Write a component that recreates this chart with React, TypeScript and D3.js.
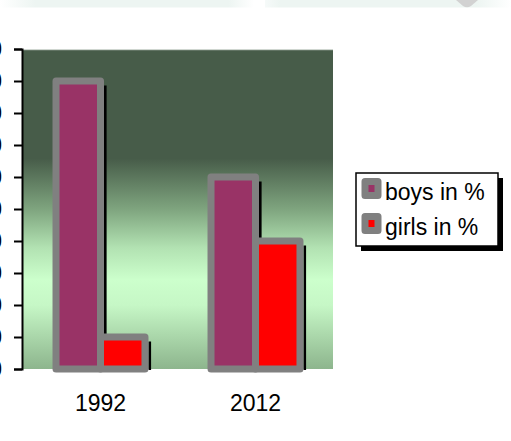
import React, { useEffect, useRef } from 'react';
import * as d3 from 'd3';

// chart data
const years = ['1992', '2012'];
const seriesNames = ['boys in %', 'girls in %'];
const boys = [90, 60];
const girls = [10, 40];
const yTicks = [0, 10, 20, 30, 40, 50, 60, 70, 80, 90, 100];
const seriesColors = ['#993366', '#ff0000'];

const W = 511;
const H = 441;
const plot = { left: 23, right: 333, top: 49, bottom: 369 };
const font = "'Liberation Sans', Arial, sans-serif";
const barStroke = 7;

const App = () => {
  const axisRef = useRef<SVGGElement>(null);

  const x0 = d3.scaleBand<string>()
    .domain(years)
    .range([plot.left, plot.right])
    .paddingInner(0.426)
    .paddingOuter(0.213);

  const x1 = d3.scaleBand<string>()
    .domain(seriesNames)
    .range([0, x0.bandwidth()]);

  const y = d3.scaleLinear()
    .domain([0, 100])
    .range([plot.bottom, plot.top]);

  const values = [boys, girls];

  useEffect(() => {
    const g = d3.select(axisRef.current);
    g.selectAll('*').remove();
    g.call(
      d3.axisLeft(y)
        .tickValues(yTicks)
        .tickSize(8)
        .tickPadding(12)
        .tickFormat(d3.format('d'))
    );
    g.attr('font-family', font).attr('font-size', 23);
    g.select('.domain').attr('stroke', '#000').attr('stroke-width', 2);
    g.selectAll('.tick line').attr('stroke', '#000').attr('stroke-width', 2);
    g.selectAll('.tick text').attr('fill', '#000');
  }, []);

  // bars in drawing order: group by year, boys then girls
  const bars = years.flatMap((yr, i) =>
    seriesNames.map((s, j) => {
      const v = values[j][i];
      return {
        key: `${yr}-${s}`,
        x: (x0(yr) ?? 0) + (x1(s) ?? 0),
        y: y(v),
        w: x1.bandwidth(),
        h: y(0) - y(v),
        color: seriesColors[j],
      };
    })
  );

  const half = barStroke / 2;

  return (
    <svg
      width={W}
      height={H}
      style={{ position: 'absolute', left: 0, top: 0, background: '#fff' }}
    >
      <defs>
        <linearGradient id="plotBg" x1="0" y1="0" x2="0" y2="1">
          <stop offset="0" stopColor="#475c49" />
          <stop offset="0.34" stopColor="#475c49" />
          <stop offset="0.5" stopColor="#7fa57f" />
          <stop offset="0.62" stopColor="#b2e2b2" />
          <stop offset="0.72" stopColor="#ccffcc" />
          <stop offset="0.8" stopColor="#c6f7c6" />
          <stop offset="1" stopColor="#8db58d" />
        </linearGradient>
        <linearGradient id="band1" x1="0" y1="0" x2="1" y2="0">
          <stop offset="0" stopColor="#ffffff" />
          <stop offset="0.14" stopColor="#edf5f2" />
          <stop offset="0.9" stopColor="#edf5f2" />
          <stop offset="1" stopColor="#ffffff" />
        </linearGradient>
        <linearGradient id="band2" x1="0" y1="0" x2="1" y2="0">
          <stop offset="0" stopColor="#f6faf9" />
          <stop offset="0.06" stopColor="#edf5f2" />
          <stop offset="0.86" stopColor="#edf5f2" />
          <stop offset="1" stopColor="#ffffff" />
        </linearGradient>
      </defs>

      {/* faint strip at the very top */}
      <rect x={0} y={0} width={254} height={7.5} fill="url(#band1)" />
      <rect x={265} y={0} width={246} height={7.5} fill="url(#band2)" />
      <path d="M456,0 H478 L471,6 Q467,8.5 463,6 Z" fill="#d2d2d2" />

      {/* plot area */}
      <rect
        x={plot.left}
        y={plot.top + 1}
        width={plot.right - plot.left}
        height={plot.bottom - plot.top - 1}
        fill="url(#plotBg)"
      />
      <rect x={plot.left} y={plot.top} width={plot.right - plot.left} height={1.2} fill="#cfd6d0" />

      {/* shadows */}
      {bars.map(b => (
        <rect
          key={`sh-${b.key}`}
          x={b.x + b.w + half}
          y={b.y - half + 8}
          width={2.6}
          height={Math.max(0, y(0) + 1 - (b.y - half + 8))}
          fill="#000"
        />
      ))}

      {/* bars */}
      {bars.map(b => (
        <rect
          key={b.key}
          x={b.x}
          y={b.y}
          width={b.w}
          height={b.h}
          fill={b.color}
          stroke="#808080"
          strokeWidth={barStroke}
          strokeLinejoin="round"
        />
      ))}

      {/* y axis */}
      <g ref={axisRef} transform={`translate(${plot.left - 1},0)`} />

      {/* category labels */}
      {years.map(yr => (
        <text
          key={yr}
          x={(x0(yr) ?? 0) + x0.bandwidth() / 2}
          y={410.5}
          textAnchor="middle"
          fontFamily={font}
          fontSize={23}
          fill="#000"
        >
          {yr}
        </text>
      ))}

      {/* legend */}
      <g>
        <rect x={361} y={178} width={142} height={73} fill="#000" />
        <rect x={356} y={173} width={142} height={73} fill="#fff" stroke="#000" strokeWidth={1.5} />
        {seriesNames.map((s, j) => (
          <g key={s} transform={`translate(0,${j * 35})`}>
            <rect
              x={365}
              y={181.5}
              width={13}
              height={14}
              fill={seriesColors[j]}
              stroke="#808080"
              strokeWidth={barStroke}
              strokeLinejoin="round"
            />
            <text x={385} y={199.5} fontFamily={font} fontSize={23} fill="#000">
              {s}
            </text>
          </g>
        ))}
      </g>
    </svg>
  );
};

export default App;
